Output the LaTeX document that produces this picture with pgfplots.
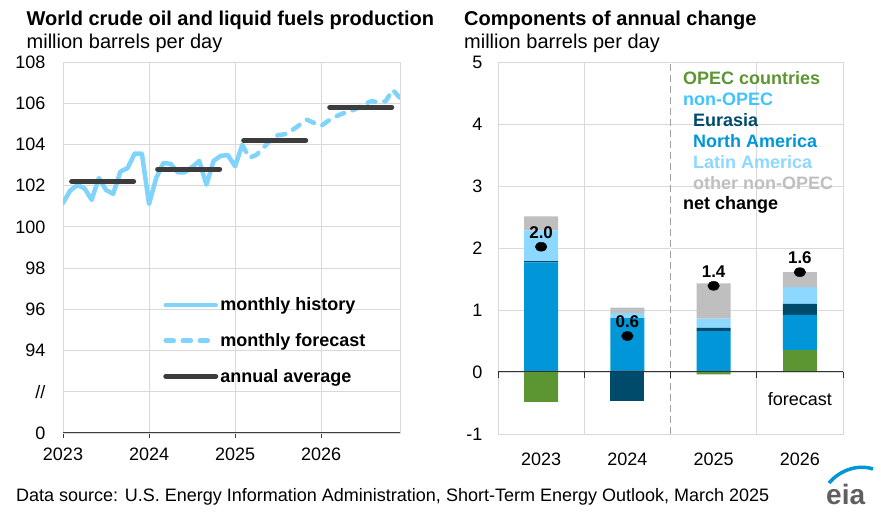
\documentclass[border=0pt]{standalone}
\usepackage{pgfplots}
\usepackage{pgfplotstable}
\pgfplotsset{compat=1.18}
\usepackage{fontspec}
\setmainfont{Liberation Sans}

\definecolor{histblue}{RGB}{128,212,252}
\definecolor{avggray}{RGB}{60,60,60}
\definecolor{gridgray}{RGB}{217,217,217}
\definecolor{opecgreen}{RGB}{92,150,50}
\definecolor{nablue}{RGB}{0,150,215}
\definecolor{eurdark}{RGB}{0,75,107}
\definecolor{latblue}{RGB}{140,216,255}
\definecolor{othgray}{RGB}{191,191,191}
\definecolor{nonopec}{RGB}{64,196,255}
\definecolor{eiagray}{RGB}{95,95,95}
\definecolor{eiablue}{RGB}{0,150,215}
\definecolor{dashgray}{RGB}{160,160,160}

\newcommand{\fs}[1]{\fontsize{#1}{#1}\selectfont}

\pgfplotstableread{
m v
0 101.16
1 101.76
2 102.03
3 101.87
4 101.31
5 102.37
6 101.79
7 101.60
8 102.68
9 102.85
10 103.56
11 103.56
12 101.11
13 102.37
14 103.10
15 103.06
16 102.65
17 102.65
18 102.90
19 103.20
20 102.05
21 103.20
22 103.45
23 103.48
24 102.94
25 103.97
}\histtable

\pgfplotstableread{
m v
25 103.97
26 103.35
27 103.50
28 103.85
29 104.25
30 104.45
31 104.50
32 104.70
33 104.95
34 105.20
35 105.05
36 104.90
37 105.15
38 105.35
39 105.50
40 105.60
41 105.75
42 105.95
43 106.10
44 106.05
45 106.10
46 106.65
47 106.25
}\fcsttable

\pgfplotstableread{
m v
1.2 102.2
9.85 102.2
11 nan
13.2 102.8
21.85 102.8
23 nan
25.2 104.2
33.85 104.2
35 nan
37.2 105.8
45.85 105.8
}\avgtable

\pgfplotstableread{
x opec na eur lat oth
0 0 1.77 0.02 0.49 0.23
1 0 0.87 0 0.08 0.09
2 0 0.66 0.05 0.15 0.57
3 0.35 0.57 0.18 0.27 0.24
}\postable

\pgfplotstableread{
x opec eur
0 -0.48 0
1 0 -0.46
2 -0.04 0
3 0 0
}\negtable

\begin{document}
\begin{tikzpicture}
\path[use as bounding box] (0pt,0pt) rectangle (881pt,514pt);

% titles
\node[anchor=base west, inner sep=0pt, font=\bfseries\fs{20}] at (26.5pt,488pt) {World crude oil and liquid fuels production};
\node[anchor=base west, inner sep=0pt, font=\fs{20}] at (26.5pt,465pt) {million barrels per day};
\node[anchor=base west, inner sep=0pt, font=\bfseries\fs{20}] at (464pt,488pt) {Components of annual change};
\node[anchor=base west, inner sep=0pt, font=\fs{20}] at (464pt,465pt) {million barrels per day};

% left chart
\begin{axis}[
  at={(63pt,81pt)}, anchor=south west,
  scale only axis, width=337pt, height=371pt,
  xmin=0, xmax=47, ymin=90, ymax=108,
  xtick={0,12,24,36}, xticklabels={2023,2024,2025,2026},
  ytick={90,92,...,108}, yticklabels={0,//,94,96,98,100,102,104,106,108},
  grid=major, grid style={gridgray, line width=0.8pt},
  axis line style={gridgray, line width=0.8pt},
  xtick pos=left, tick align=outside, major tick length=5pt,
  xtick style={avggray, line width=0.8pt},
  ytick style={draw=none},
  tick label style={font=\fs{18}},
  yticklabel style={xshift=-9pt},
  xticklabel style={yshift=-6pt},
  unbounded coords=jump,
  legend style={at={(rel axis cs:0.297,0.37)}, anchor=north west, draw=none, fill=none,
    font=\bfseries\fs{18}, row sep=17pt, inner sep=0pt},
  legend cell align=left,
  legend image code/.code={\draw[#1] (0pt,0pt) -- (50pt,0pt);},
]
\addplot[histblue, line width=4.5pt, line join=round, line cap=round] table[x=m,y=v] {\histtable};
\addlegendentry{monthly history}
\addplot[histblue, line width=4.5pt, line join=round, line cap=round, dash pattern=on 8pt off 9pt] table[x=m,y=v] {\fcsttable};
\addlegendentry{monthly forecast}
\addplot[avggray, line width=5pt, line cap=round] table[x=m,y=v] {\avgtable};
\addlegendentry{annual average}
\draw[avggray, line width=1pt] (rel axis cs:0,0) -- (rel axis cs:1,0);
\end{axis}

% right chart: positive components
\begin{axis}[
  at={(498pt,80pt)}, anchor=south west,
  scale only axis, width=345pt, height=372pt,
  xmin=-0.5, xmax=3.5, ymin=-1, ymax=5,
  ybar stacked, bar width=34pt,
  xtick={0,1,2,3}, xticklabels={2023,2024,2025,2026},
  ytick={-1,0,...,5}, yticklabels={-1,0,1,2,3,4,5},
  minor xtick={0.5,2.5},
  ymajorgrids, xminorgrids,
  major grid style={gridgray, line width=0.8pt},
  minor grid style={gridgray, line width=0.8pt},
  axis line style={gridgray, line width=0.8pt},
  major tick length=0pt, minor tick length=0pt,
  tick label style={font=\fs{18}},
  yticklabel style={xshift=-12pt},
  xticklabel style={yshift=-15pt},
]
\addplot[fill=opecgreen, draw=none] table[x=x,y=opec] {\postable};
\addplot[fill=nablue, draw=none] table[x=x,y=na] {\postable};
\addplot[fill=eurdark, draw=none] table[x=x,y=eur] {\postable};
\addplot[fill=latblue, draw=none] table[x=x,y=lat] {\postable};
\addplot[fill=othgray, draw=none] table[x=x,y=oth] {\postable};
\end{axis}

% right chart: negative components
\begin{axis}[
  at={(498pt,80pt)}, anchor=south west,
  scale only axis, width=345pt, height=372pt,
  xmin=-0.5, xmax=3.5, ymin=-1, ymax=5,
  ybar stacked, bar width=34pt, hide axis,
]
\addplot[fill=opecgreen, draw=none] table[x=x,y=opec] {\negtable};
\addplot[fill=eurdark, draw=none] table[x=x,y=eur] {\negtable};
\end{axis}

% right chart: net change
\begin{axis}[
  at={(498pt,80pt)}, anchor=south west,
  scale only axis, width=345pt, height=372pt,
  xmin=-0.5, xmax=3.5, ymin=-1, ymax=5,
  hide axis, clip=false,
]
\draw[white, line width=1pt] (axis cs:1.5,-1) -- (axis cs:1.5,5);
\draw[dashgray, line width=1pt, dash pattern=on 7pt off 4pt] (axis cs:1.5,-1) -- (axis cs:1.5,5);
\draw[black!80, line width=1pt] (axis cs:-0.5,0) -- (axis cs:3.5,0);
\draw[black!80, line width=1pt] (axis cs:-0.5,0) -- ++(0pt,-6pt);
\draw[black!80, line width=1pt] (axis cs:0.5,0) -- ++(0pt,-6pt);
\draw[black!80, line width=1pt] (axis cs:1.5,0) -- ++(0pt,-6pt);
\draw[black!80, line width=1pt] (axis cs:2.5,0) -- ++(0pt,-6pt);
\draw[black!80, line width=1pt] (axis cs:3.5,0) -- ++(0pt,-6pt);
\addplot[only marks, mark=*, mark size=4.5pt, mark options={xscale=1.3, fill=black, draw=black},
  point meta=explicit symbolic, nodes near coords,
  nodes near coords style={anchor=south, yshift=8pt, inner sep=0pt, font=\bfseries\fs{17}, text=black}]
  coordinates {(0,2.02)[2.0] (1,0.58)[0.6] (2,1.39)[1.4] (3,1.61)[1.6]};
\node[font=\fs{18}] at (axis cs:3.0,-0.43) {forecast};
\end{axis}

% right legend (text only)
\node[anchor=base west, inner sep=0pt, font=\bfseries\fs{18}, text=opecgreen] at (683pt,429.8pt) {OPEC countries};
\node[anchor=base west, inner sep=0pt, font=\bfseries\fs{18}, text=nonopec] at (683pt,408.5pt) {non-OPEC};
\node[anchor=base west, inner sep=0pt, font=\bfseries\fs{18}, text=eurdark] at (693pt,387.5pt) {Eurasia};
\node[anchor=base west, inner sep=0pt, font=\bfseries\fs{18}, text=nablue] at (693pt,366.8pt) {North America};
\node[anchor=base west, inner sep=0pt, font=\bfseries\fs{18}, text=latblue] at (693pt,345.8pt) {Latin America};
\node[anchor=base west, inner sep=0pt, font=\bfseries\fs{18}, text=othgray] at (693pt,324.8pt) {other non-OPEC};
\node[anchor=base west, inner sep=0pt, font=\bfseries\fs{18}, text=black] at (683pt,304.2pt) {net change};

% source
\node[anchor=base west, inner sep=0pt, font=\fs{18}] at (16pt,12pt) {Data source: U.S. Energy Information Administration, Short-Term Energy Outlook, March 2025};

% eia logo
\draw[eiablue, line width=3.5pt] (829pt,31pt) .. controls (840pt,44pt) and (858pt,50pt) .. (873pt,45pt);
\node[anchor=base west, inner sep=0pt, font=\bfseries\fs{28}, text=eiagray] at (826pt,9pt) {eia};
\end{tikzpicture}
\end{document}
